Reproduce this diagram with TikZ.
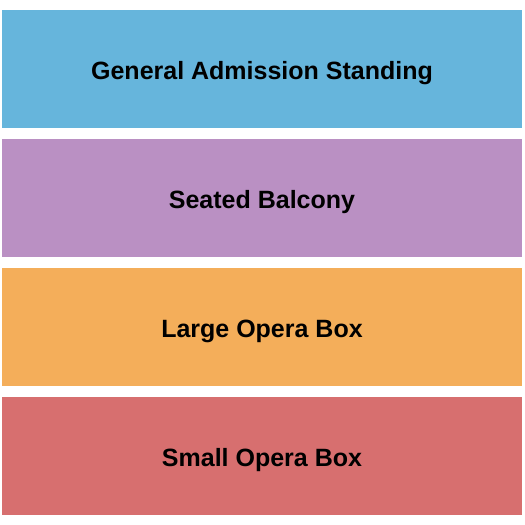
\documentclass[tikz,border=0pt]{standalone}
\usepackage{fontspec}
\setmainfont{Liberation Sans}
\definecolor{cblue}{HTML}{66B5DC}
\definecolor{cpurple}{HTML}{BA90C3}
\definecolor{corange}{HTML}{F4AE5A}
\definecolor{cred}{HTML}{D76F6F}
\begin{document}
\begin{tikzpicture}[x=1pt,y=-1pt,
  sect/.style={draw=none,inner sep=0pt,minimum width=520pt,minimum height=118pt,
    text height=21pt,text depth=0pt,
    font=\fontsize{25}{30}\selectfont\bfseries,text=black}]
\useasboundingbox (0,0) rectangle (525,525);
\node[sect,fill=cblue] (ga) at (262,69) {General Admission Standing};
\node[sect,fill=cpurple] (sb) at (262,198) {Seated Balcony};
\node[sect,fill=corange] (lob) at (262,327) {Large Opera Box};
\node[sect,fill=cred] (sob) at (262,456) {Small Opera Box};
\end{tikzpicture}
\end{document}
